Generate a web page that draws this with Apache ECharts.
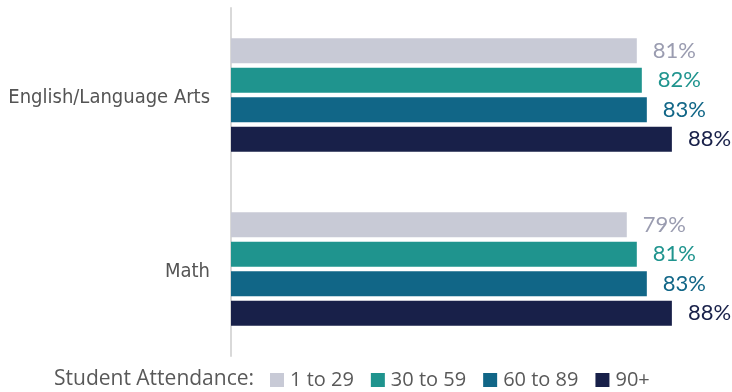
<!DOCTYPE html>
<html>
<head>
<meta charset="utf-8">
<script src="https://cdn.jsdelivr.net/npm/echarts@6/dist/echarts.min.js"></script>
<style>
  html, body { margin: 0; padding: 0; background: #fff; }
  #chart { width: 732px; height: 392px; }
</style>
</head>
<body>
<div id="chart"></div>
<script>
// subjects, top to bottom
var subjects = ['English/Language Arts', 'Math'];
// attendance bands
var bands = ['1 to 29', '30 to 59', '60 to 89', '90+'];
// percent of students, one array per band (English, Math)
var band1to29 = [81, 79];
var band30to59 = [82, 81];
var band60to89 = [83, 83];
var band90plus = [88, 88];

var barColors = ['#c8cad6', '#1f948e', '#116687', '#182049'];
var labelColors = ['#9a9cb0', '#1f948e', '#116687', '#182049'];
var values = [band1to29, band30to59, band60to89, band90plus];

var series = bands.map(function (name, i) {
  return {
    name: name,
    type: 'bar',
    data: values[i],
    barWidth: 25,
    barGap: '18%',
    itemStyle: { color: barColors[i] },
    label: {
      show: true,
      position: 'right',
      distance: 16,
      formatter: '{c}%',
      color: labelColors[i],
      fontFamily: 'Lato',
      fontSize: 22
    }
  };
});

var chart = echarts.init(document.getElementById('chart'));
chart.setOption({
  animation: false,
  grid: { left: 231, right: 0, top: 8, bottom: 36 },
  title: {
    text: 'Student Attendance:',
    left: 54,
    top: 369,
    padding: 0,
    textStyle: { fontFamily: 'Open Sans', fontSize: 21, fontWeight: 'normal', color: '#595959' }
  },
  legend: {
    data: bands,
    left: 270,
    top: 370,
    padding: 0,
    icon: 'rect',
    itemWidth: 14,
    itemHeight: 14,
    itemGap: 17,
    textStyle: { fontFamily: 'Open Sans', fontSize: 20, color: '#595959', padding: [0, 0, 0, 1] }
  },
  xAxis: {
    type: 'value',
    min: 0,
    max: 100,
    show: false
  },
  yAxis: {
    type: 'category',
    data: subjects,
    inverse: true,
    axisLine: { lineStyle: { color: '#d9d9d9', width: 2 } },
    axisTick: { show: false },
    axisLabel: {
      margin: 21,
      formatter: '{v|{value}}',
      rich: {
        v: {
          fontFamily: 'DejaVu Sans Condensed',
          fontSize: 20,
          color: '#545454',
          padding: [6, 0, 0, 0]
        }
      }
    }
  },
  series: series
});
</script>
</body>
</html>
